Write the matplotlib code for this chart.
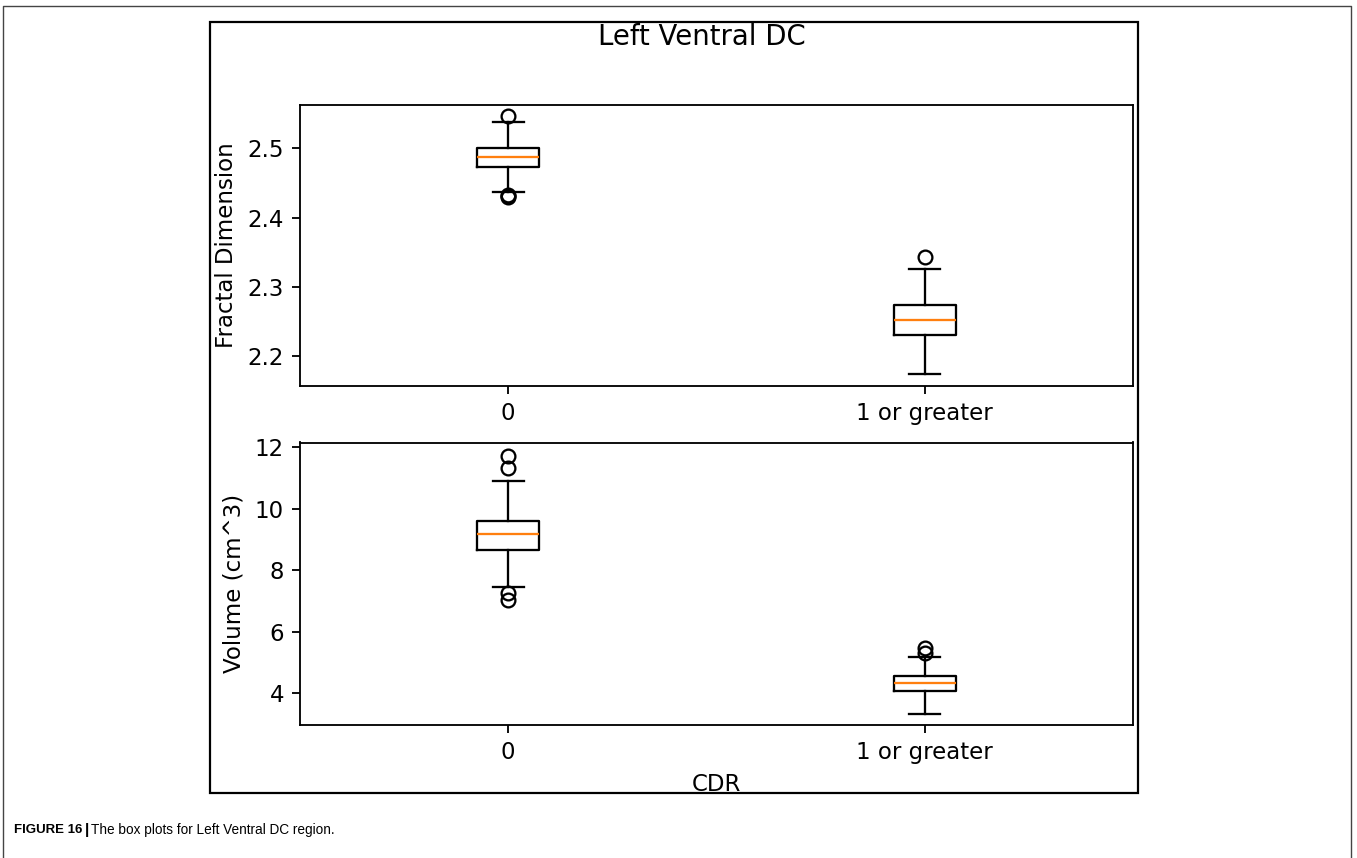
import matplotlib
matplotlib.use("Agg")
import matplotlib.pyplot as plt
from matplotlib.lines import Line2D
from matplotlib.patches import Rectangle

# Groups on the x axis
groups = ["0", "1 or greater"]

# Fractal dimension box statistics
fd_med = [2.4875, 2.2517]
fd_q1 = [2.473, 2.230]
fd_q3 = [2.500, 2.2735]
fd_whislo = [2.437, 2.1735]
fd_whishi = [2.539, 2.3252]
fd_fliers = [[2.547, 2.4315, 2.4300, 2.4330], [2.3426]]

# Volume (cm^3) box statistics
vol_med = [9.18, 4.35]
vol_q1 = [8.67, 4.07]
vol_q3 = [9.60, 4.55]
vol_whislo = [7.47, 3.33]
vol_whishi = [10.92, 5.19]
vol_fliers = [[11.73, 11.33, 7.28, 7.04], [5.48, 5.30]]

W, H = 1357, 858
s = 1.65  # scale of the original figure relative to default sizes

fig = plt.figure(figsize=(W / 100, H / 100), dpi=100)


def make_stats(med, q1, q3, lo, hi, fliers):
    stats = []
    for i in range(len(groups)):
        stats.append({"med": med[i], "q1": q1[i], "q3": q3[i],
                      "whislo": lo[i], "whishi": hi[i],
                      "fliers": fliers[i], "label": groups[i]})
    return stats


def draw_box(ax, stats):
    lw = 1.0 * s
    ax.bxp(stats, widths=0.15,
           boxprops=dict(linewidth=lw, color="black"),
           whiskerprops=dict(linewidth=lw, color="black"),
           capprops=dict(linewidth=lw, color="black"),
           medianprops=dict(linewidth=lw, color="#ff7f0e"),
           flierprops=dict(marker="o", markersize=6 * s, markerfacecolor="none",
                           markeredgecolor="black", markeredgewidth=lw))
    for sp in ax.spines.values():
        sp.set_linewidth(0.8 * s)
    ax.tick_params(labelsize=10 * s, length=3.5 * s, width=0.8 * s, pad=3.5 * s)


# top axes: fractal dimension
ax1 = fig.add_axes([300 / W, 1 - 386 / H, 833 / W, 281 / H])
draw_box(ax1, make_stats(fd_med, fd_q1, fd_q3, fd_whislo, fd_whishi, fd_fliers))
ax1.set_ylim(2.156, 2.563)
ax1.set_yticks([2.2, 2.3, 2.4, 2.5])
ax1.set_ylabel("Fractal Dimension", fontsize=10 * s, labelpad=4 * s)

# bottom axes: volume
ax2 = fig.add_axes([300 / W, 1 - 725 / H, 833 / W, 282.5 / H])
draw_box(ax2, make_stats(vol_med, vol_q1, vol_q3, vol_whislo, vol_whishi, vol_fliers))
ax2.set_ylim(2.97, 12.16)
ax2.set_yticks([4, 6, 8, 10, 12])
ax2.set_ylabel("Volume (cm^3)", fontsize=10 * s, labelpad=4 * s)
ax2.set_xlabel("CDR", fontsize=10 * s, labelpad=4 * s)

# figure title
fig.text(702 / W, 1 - 37 / H, "Left Ventral DC", fontsize=12 * s,
         ha="center", va="center")

# frames of the page
fig.add_artist(Rectangle((210 / W, 1 - 793 / H), 928 / W, 771 / H,
                         transform=fig.transFigure, fill=False,
                         edgecolor="black", linewidth=1.6))
fig.add_artist(Line2D([3 / W, 3 / W, 1351 / W, 1351 / W],
                      [0, 1 - 6 / H, 1 - 6 / H, 0],
                      transform=fig.transFigure, color="#444444", linewidth=1.0))

# caption, each piece placed right after the previous one
cap_font = ["Liberation Sans Narrow", "Liberation Sans"]
t1 = fig.text(14 / W, 1 - 830 / H, "FIGURE 16", fontsize=9.5, fontweight="bold",
              family=cap_font, va="center")
t2 = plt.annotate("|", xy=(1, 0.5), xycoords=t1, xytext=(1.5, 0),
                  textcoords="offset points", fontsize=11, fontweight="bold",
                  family=cap_font, va="center", annotation_clip=False)
plt.annotate("The box plots for Left Ventral DC region.", xy=(1, 0.5),
             xycoords=t2, xytext=(1.5, 0), textcoords="offset points",
             fontsize=9.8, family=cap_font, va="center", annotation_clip=False)

fig.savefig("out.png", dpi=100)
